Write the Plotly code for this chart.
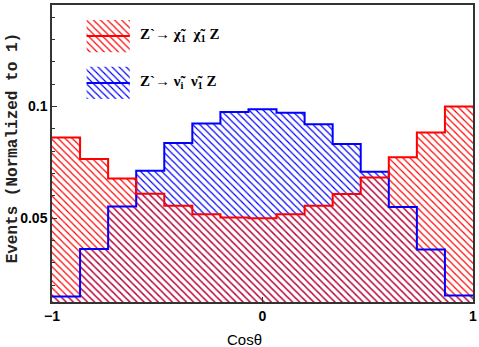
import plotly.graph_objects as go

# bin edges for cos(theta): 15 equal bins from -1 to 1
n_bins = 15
bin_edges = [-1 + 2 * i / n_bins for i in range(n_bins + 1)]

# normalized event fractions
chi_vals = [0.0861, 0.0765, 0.0678, 0.0609, 0.0556, 0.0518, 0.0503, 0.0500,
            0.0518, 0.0556, 0.0608, 0.0682, 0.0773, 0.0884, 0.1000]
snu_vals = [0.0150, 0.0362, 0.0552, 0.0712, 0.0836, 0.0924, 0.0975, 0.0988,
            0.0972, 0.0920, 0.0832, 0.0708, 0.0550, 0.0360, 0.0154]

legend_chi = "<b>Z`→ χ̃<sub>1</sub>  χ̃<sub>1</sub> Z</b>"
legend_snu = "<b>Z`→ ν̃<sub>i</sub>  ν̃<sub>1</sub> Z</b>"

x_tickvals = [-1, 0, 1]
x_ticktext = ["−1", "0", "1"]
y_tickvals = [0.05, 0.1]
y_ticktext = ["0.05", "0.1"]

RED = "#ff0000"
BLUE = "#0000ff"
MIX = "#b80c40"
HATCH_SIZE = 5
HATCH_SOLIDITY = 0.24

def step_y(vals):
    return list(vals) + [vals[-1]]

overlap_vals = [min(a, b) for a, b in zip(chi_vals, snu_vals)]

fig = go.Figure()

def pat(color, solidity=HATCH_SOLIDITY):
    return dict(shape="\\", fgcolor=color, bgcolor="rgba(0,0,0,0)",
                size=HATCH_SIZE, solidity=solidity, fillmode="replace")

def region(vals, fill, color=None, solidity=HATCH_SOLIDITY):
    kw = dict(x=bin_edges, y=step_y(vals), mode="lines",
              line=dict(width=0, shape="hv", color="rgba(0,0,0,0)"),
              showlegend=False, hoverinfo="skip")
    if fill:
        kw.update(fill=fill, fillcolor="rgba(0,0,0,0)", fillpattern=pat(color, solidity))
    return go.Scatter(**kw)

# overlap (both distributions) hatch
fig.add_trace(region(overlap_vals, "tozeroy", MIX, 0.3))
# red-only part
fig.add_trace(region(chi_vals, "tonexty", RED))
# blue-only part
fig.add_trace(region(overlap_vals, None))
fig.add_trace(region(snu_vals, "tonexty", BLUE))

fig.add_trace(go.Scatter(x=bin_edges, y=step_y(snu_vals), mode="lines",
                         line=dict(color=BLUE, width=2, shape="hv"), showlegend=False))
fig.add_trace(go.Scatter(x=bin_edges, y=step_y(chi_vals), mode="lines",
                         line=dict(color=RED, width=2, shape="hv"), showlegend=False))

# legend swatches drawn on a small helper axis
sw_x = [0, 1, 1, 0, 0]
sw_y = [0, 0, 1, 1, 0]
for (y0, col) in [(0.0, RED), (1.45, BLUE)]:
    fig.add_trace(go.Scatter(
        x=sw_x, y=[v + y0 for v in sw_y], mode="lines", line=dict(width=0, color="rgba(0,0,0,0)"),
        fill="toself", fillcolor="rgba(0,0,0,0)", fillpattern=pat(col),
        xaxis="x2", yaxis="y2", showlegend=False, hoverinfo="skip"))
    fig.add_trace(go.Scatter(x=[0, 1], y=[y0 + 0.5, y0 + 0.5], mode="lines",
                             line=dict(color=col, width=2), xaxis="x2", yaxis="y2",
                             showlegend=False, hoverinfo="skip"))

tick_font = dict(family="Liberation Sans, Arial", size=14, color="black", weight="bold")

fig.update_layout(
    width=479, height=347,
    margin=dict(l=52, r=2, t=5, b=45),
    paper_bgcolor="white", plot_bgcolor="white",
    xaxis=dict(range=[-1, 1], tickmode="array", tickvals=x_tickvals, ticktext=x_ticktext,
               ticks="inside", ticklen=5, tickwidth=1, tickcolor="#333",
               showline=True, linecolor="#333", linewidth=1.5, mirror=True,
               showgrid=False, zeroline=False, tickfont=tick_font, ticklabeloverflow="allow"),
    yaxis=dict(range=[0.0125, 0.1454], tickmode="array", tickvals=y_tickvals, ticktext=y_ticktext,
               ticks="inside", ticklen=5, tickwidth=1, tickcolor="#333",
               minor=dict(tickmode="linear", tick0=0, dtick=0.01, ticks="inside", ticklen=3,
                          tickcolor="#333", showgrid=False),
               showline=True, linecolor="#333", linewidth=1.5, mirror=True,
               showgrid=False, zeroline=False, tickfont=tick_font),
    xaxis2=dict(domain=[0.0816, 0.185], range=[0, 1], visible=False, fixedrange=True),
    yaxis2=dict(domain=[0.6835, 0.9495], range=[2.45, 0], visible=False, fixedrange=True, anchor="x2"),
    annotations=[
        dict(text=legend_chi, x=0.2047, y=0.899, xref="paper", yref="paper", xanchor="left",
             yanchor="middle", showarrow=False,
             font=dict(family="Liberation Serif, Times New Roman, serif", size=15, color="black")),
        dict(text=legend_snu, x=0.2047, y=0.7418, xref="paper", yref="paper", xanchor="left",
             yanchor="middle", showarrow=False,
             font=dict(family="Liberation Serif, Times New Roman, serif", size=15, color="black")),
        dict(text="Cosθ", x=0.4565, y=-0.1246, xref="paper", yref="paper", xanchor="center",
             yanchor="middle", showarrow=False,
             font=dict(family="Liberation Sans, Arial", size=15, color="black")),
        dict(text="<b>Events (Normalized to 1)</b>", x=-0.0918, y=0.5185, xref="paper", yref="paper",
             xanchor="center", yanchor="middle", textangle=-90, showarrow=False,
             font=dict(family="Liberation Mono, Courier New, monospace", size=16, color="#222")),
    ],
)

fig.write_html("out.html", config={"displayModeBar": False},
               post_script="document.body.style.margin='0';document.body.style.padding='0';")
